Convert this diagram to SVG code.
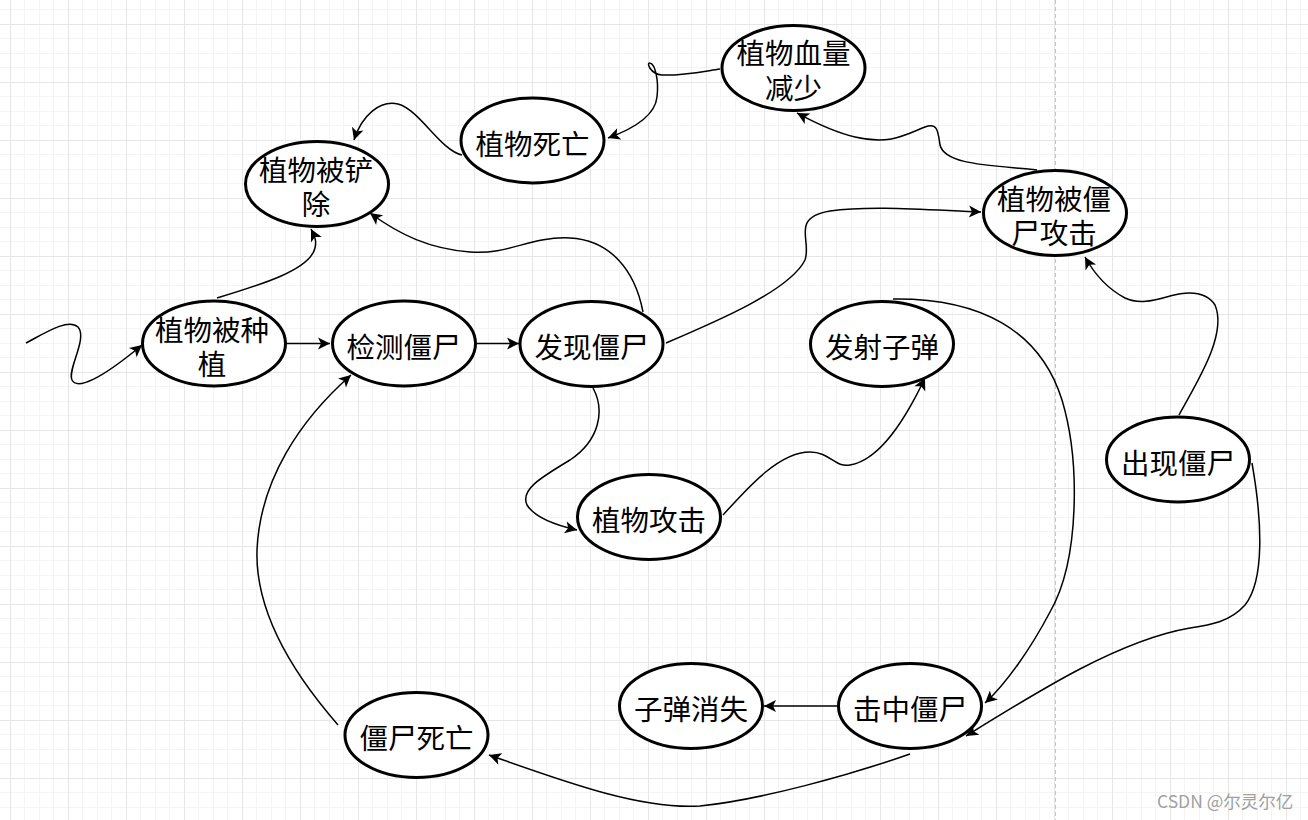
<svg xmlns="http://www.w3.org/2000/svg" width="1308" height="820" viewBox="0 0 1308 820">
<style>
.node ellipse{fill:#ffffff;stroke:#000000;stroke-width:3}
.node text{font-family:"Noto Sans CJK SC","Microsoft YaHei",sans-serif;font-size:28.5px;fill:#000000;text-anchor:middle;dominant-baseline:central}
#connectors path{fill:none;stroke:#000000;stroke-width:1.5;marker-end:url(#arr)}
.wm{font-family:"Noto Sans CJK SC","Liberation Sans",sans-serif;font-size:17.5px;fill:#a0a0a0}
</style>
<defs>
<pattern id="grid" patternUnits="userSpaceOnUse" x="10" y="24" width="58" height="58">
<rect x="14" y="0" width="1" height="58" fill="#f4f4f4"/>
<rect x="29" y="0" width="1" height="58" fill="#f4f4f4"/>
<rect x="43" y="0" width="1" height="58" fill="#f4f4f4"/>
<rect x="0" y="14" width="58" height="1" fill="#f4f4f4"/>
<rect x="0" y="29" width="58" height="1" fill="#f4f4f4"/>
<rect x="0" y="43" width="58" height="1" fill="#f4f4f4"/>
<rect x="0" y="0" width="1" height="58" fill="#e6e6e6"/>
<rect x="0" y="0" width="58" height="1" fill="#e6e6e6"/>
</pattern>
<marker id="arr" viewBox="-13 -7 14 14" markerWidth="14" markerHeight="14" markerUnits="userSpaceOnUse" refX="0" refY="0" orient="auto">
<path d="M0,0 L-12,-6 L-9,0 L-12,6 Z" fill="#000000" stroke="none"/>
</marker>
</defs>
<rect x="0" y="0" width="1308" height="820" fill="#ffffff"/>
<rect x="0" y="0" width="1308" height="820" fill="url(#grid)"/>
<line x1="1055.5" y1="0" x2="1055.5" y2="820" stroke="#c4c4c4" stroke-width="1" stroke-dasharray="4,3"/>

<g id="connectors">
<path d="M26,343 C45,333 68,318 78,327 C88,338 67,370 72,380 C77,390 100,380 142,345"/>
<path d="M287,343.5 L330,343.5"/>
<path d="M477,343.5 L519,343.5"/>
<path d="M217,298 C260,285 310,270 315,248 C317,240 314,235 311,229"/>
<path d="M643,312 C635,270 610,240 570,238 C530,236 510,255 470,252 C430,249 400,235 370,213"/>
<path d="M462,155 C440,150 420,110 398,104 C380,100 362,115 354,140"/>
<path d="M720,69 C700,72 680,76 662,75 C650,74 646,62 650,63 C655,64 659,80 657,97 C655,117 630,130 608,138"/>
<path d="M1037,170 C990,165 945,165 940,145 C938,132 938,122 925,127 C905,135 890,145 855,137 C830,131 810,120 797,113"/>
<path d="M666,343 C720,320 790,290 805,260 C812,240 790,218 830,211 C870,205 930,210 981,212"/>
<path d="M1179,415 C1195,385 1228,335 1215,305 C1205,290 1185,292 1170,296 C1155,300 1140,305 1125,298 C1110,290 1095,275 1085,257"/>
<path d="M893,299 C980,298 1040,330 1062,400 C1080,460 1080,560 1050,612 C1030,650 1005,685 985,703"/>
<path d="M1252,463 C1262,520 1265,580 1245,605 C1230,622 1210,625 1190,628 C1120,640 1040,690 966,736"/>
<path d="M837,706 L764,706"/>
<path d="M910,754 C850,775 760,800 700,806 C640,810 560,780 489,755"/>
<path d="M338,725 C290,670 255,610 257,550 C260,480 300,420 351,375"/>
<path d="M593,388 C605,410 600,440 570,460 C540,478 520,490 527,505 C535,518 555,525 577,530"/>
<path d="M723,515 C750,485 780,452 810,452 C830,452 835,468 850,465 C880,460 905,420 925,378"/>
</g>

<g id="n-chanchu" class="node"><ellipse cx="317" cy="184" rx="71.5" ry="42.5"/><text><tspan x="316" y="168">植物被铲</tspan><tspan x="316" y="202">除</tspan></text></g>
<g id="n-siwang" class="node"><ellipse cx="532.5" cy="140.5" rx="71.5" ry="42.5"/><text x="532.5" y="142">植物死亡</text></g>
<g id="n-xueliang" class="node"><ellipse cx="793.5" cy="68" rx="71.5" ry="42.5"/><text><tspan x="793.5" y="51">植物血量</tspan><tspan x="793.5" y="86">减少</tspan></text></g>
<g id="n-beigongji" class="node"><ellipse cx="1055" cy="213" rx="71.5" ry="42.5"/><text><tspan x="1054" y="197">植物被僵</tspan><tspan x="1054" y="231">尸攻击</tspan></text></g>
<g id="n-zhongzhi" class="node"><ellipse cx="214" cy="343.5" rx="71.5" ry="42.5"/><text><tspan x="212" y="328">植物被种</tspan><tspan x="212" y="362">植</tspan></text></g>
<g id="n-jiance" class="node"><ellipse cx="404" cy="343.5" rx="71.5" ry="42.5"/><text x="403.5" y="345">检测僵尸</text></g>
<g id="n-faxian" class="node"><ellipse cx="591.5" cy="344" rx="71.5" ry="42.5"/><text x="591.5" y="345">发现僵尸</text></g>
<g id="n-fashe" class="node"><ellipse cx="882" cy="344" rx="71.5" ry="42.5"/><text x="882" y="345">发射子弹</text></g>
<g id="n-gongji" class="node"><ellipse cx="649" cy="517" rx="71.5" ry="42.5"/><text x="649" y="518">植物攻击</text></g>
<g id="n-chuxian" class="node"><ellipse cx="1178" cy="459.5" rx="71.5" ry="42.5"/><text x="1178" y="461">出现僵尸</text></g>
<g id="n-jizhong" class="node"><ellipse cx="910" cy="706" rx="71.5" ry="42.5"/><text x="910" y="707">击中僵尸</text></g>
<g id="n-xiaoshi" class="node"><ellipse cx="691" cy="706" rx="71.5" ry="42.5"/><text x="691" y="707">子弹消失</text></g>
<g id="n-jiangshisiwang" class="node"><ellipse cx="416.5" cy="735" rx="71.5" ry="42.5"/><text x="416.5" y="736">僵尸死亡</text></g>

<text class="wm" x="1157" y="808">CSDN @尔灵尔亿</text>
</svg>
